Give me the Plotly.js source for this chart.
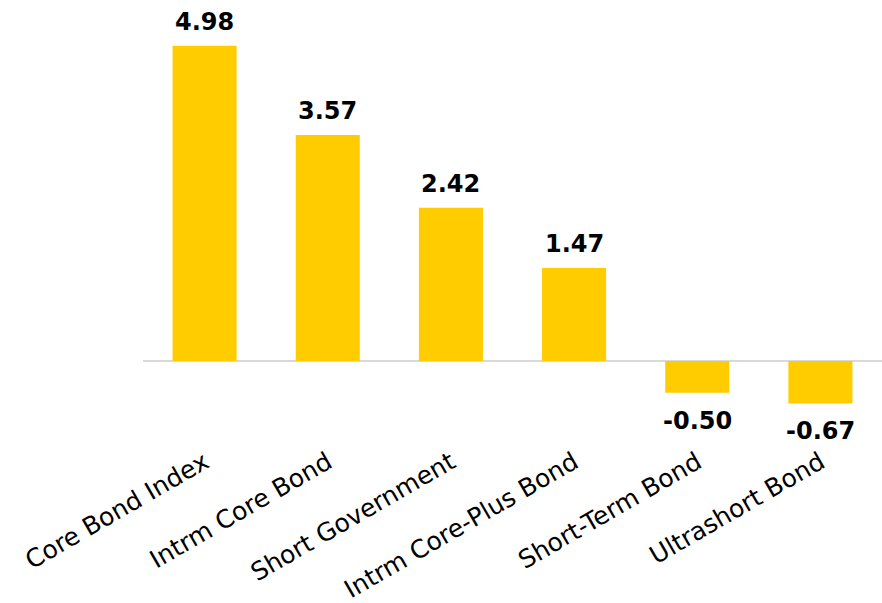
<!DOCTYPE html>
<html><head><meta charset="utf-8">
<script src="https://cdn.plot.ly/plotly-3.0.1.min.js"></script>
<style>html,body{margin:0;padding:0;background:#fff}#c{width:882px;height:603px}</style>
</head><body><div id="c"></div>
<script>
const categories = ["Core Bond Index","Intrm Core Bond","Short Government","Intrm Core-Plus Bond","Short-Term Bond","Ultrashort Bond"];
const values = [4.98, 3.57, 2.42, 1.47, -0.50, -0.67];
const labels = ["4.98","3.57","2.42","1.47","-0.50","-0.67"];

const annotations = categories.map((c,i)=>({
  x: c, y: values[i], text: "<b>"+labels[i]+"</b>", showarrow:false,
  xref:'x', yref:'y',
  yanchor: values[i]>=0 ? 'bottom':'top',
  yshift: values[i]>=0 ? 8 : -12,
  font:{family:'DejaVu Sans', size:24, color:'#000'}
}));

Plotly.newPlot('c',[{
  type:'bar', x:categories, y:values,
  marker:{color:'#FFCC00'}, hoverinfo:'none'
}],{
  width:882, height:603,
  margin:{l:143, r:0, t:10, b:161},
  bargap:0.48,
  showlegend:false,
  plot_bgcolor:'#fff', paper_bgcolor:'#fff',
  xaxis:{tickangle:-30, tickfont:{family:'DejaVu Sans', size:25, color:'#000'}, showline:false, ticks:'', showgrid:false, automargin:false},
  yaxis:{range:[-1.280,5.545], visible:true, showticklabels:false, showgrid:false, zeroline:true, zerolinecolor:'#d9d9d9', zerolinewidth:2, ticks:''},
  annotations: annotations
},{staticPlot:true});
</script></body></html>
